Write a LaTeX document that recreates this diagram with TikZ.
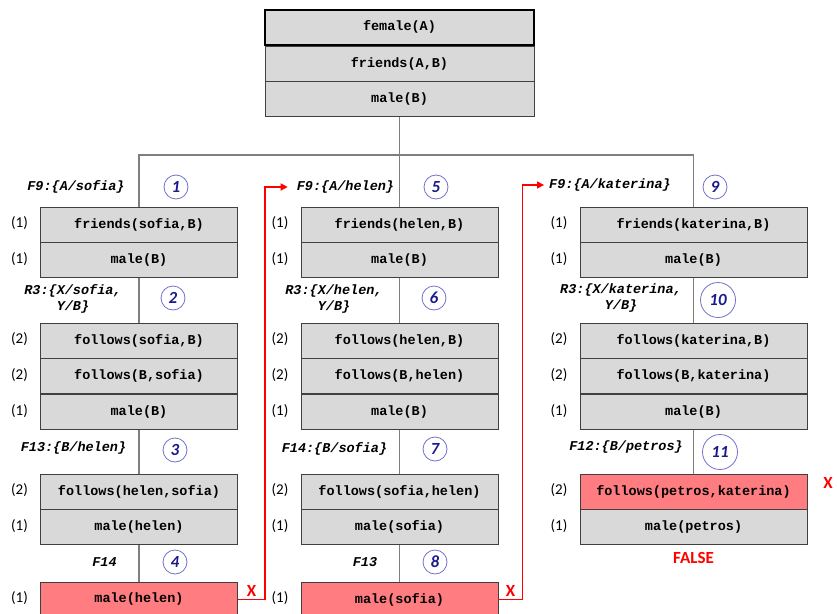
\documentclass[tikz,border=0pt]{standalone}
\usepackage{fontspec}
\setmainfont{Carlito}
\newfontfamily\codefont{Liberation Mono}
\usepackage{xcolor}
\definecolor{cBox}{HTML}{D9D9D9}
\definecolor{cLine}{HTML}{404040}
\definecolor{cLink}{HTML}{7F7F7F}
\definecolor{cFail}{HTML}{FF7C80}
\definecolor{cRed}{HTML}{FF0000}
\definecolor{cRing}{HTML}{7070D0}
\definecolor{cNum}{HTML}{1A1A8C}
\usepackage{tikz}
\usetikzlibrary{positioning,arrows.meta}
\tikzset{
  node-row/.style={draw=cLine,line width=0.9pt,fill=cBox,minimum width=197pt,
    minimum height=35pt,inner sep=0pt,
    font=\codefont\bfseries\fontsize{13.5}{16}\selectfont},
  node-wide/.style={minimum width=227pt},
  node-top/.style={minimum width=269pt},
  node-head/.style={draw=black,line width=1.7pt},
  node-fail/.style={fill=cFail},
  node-sub/.style={inner sep=1pt,align=center,
    font=\codefont\bfseries\itshape\fontsize{13.5}{16}\selectfont},
  node-count/.style={inner sep=1pt,font=\fontsize{15}{16}\selectfont},
  node-num/.style={circle,draw=cRing,line width=0.8pt,minimum size=24pt,
    inner sep=0pt,text=cNum,font=\bfseries\itshape\fontsize{17}{18}\selectfont},
  node-mark/.style={text=cRed,inner sep=1pt,font=\bfseries\fontsize{17}{18}\selectfont},
  link/.style={draw=cLink,line width=1.1pt},
  arrow-back/.style={-{Triangle[length=7pt,width=7pt]},draw=cRed,line width=1.4pt},
}

\begin{document}
\begin{tikzpicture}[x=1pt,y=-1pt]
  \useasboundingbox (0,0) rectangle (837,613);
  % query
  \node[node-row,node-top] (t2) at (399.5,63.5) {friends(A,B)};
  \node[node-row,node-top,node-head,above=0pt of t2] (t1) {female(A)};
  \node[node-row,node-top,below=0pt of t2] (t3) {male(B)};
  \coordinate (fork) at (399.5,155);

  % left branch: sofia
  \node[node-row] (l1a) at (139,224.5) {friends(sofia,B)};
  \node[node-row,below=0pt of l1a] (l1b) {male(B)};
  \node[node-row] (l2a) at (139,340.5) {follows(sofia,B)};
  \node[node-row,below=0pt of l2a] (l2b) {follows(B,sofia)};
  \node[node-row,below=0pt of l2b] (l2c) {male(B)};
  \node[node-row] (l3a) at (139,491.5) {follows(helen,sofia)};
  \node[node-row,below=0pt of l3a] (l3b) {male(helen)};
  \node[node-row,node-fail] (l4a) at (139,599.5) {male(helen)};

  % middle branch: helen
  \node[node-row] (m1a) at (399.5,224.5) {friends(helen,B)};
  \node[node-row,below=0pt of m1a] (m1b) {male(B)};
  \node[node-row] (m2a) at (399.5,340.5) {follows(helen,B)};
  \node[node-row,below=0pt of m2a] (m2b) {follows(B,helen)};
  \node[node-row,below=0pt of m2b] (m2c) {male(B)};
  \node[node-row] (m3a) at (399.5,491.5) {follows(sofia,helen)};
  \node[node-row,below=0pt of m3a] (m3b) {male(sofia)};
  \node[node-row,node-fail] (m4a) at (399.5,599.5) {male(sofia)};

  % right branch: katerina
  \node[node-row,node-wide] (r1a) at (693.5,224.5) {friends(katerina,B)};
  \node[node-row,node-wide,below=0pt of r1a] (r1b) {male(B)};
  \node[node-row,node-wide] (r2a) at (693.5,340.5) {follows(katerina,B)};
  \node[node-row,node-wide,below=0pt of r2a] (r2b) {follows(B,katerina)};
  \node[node-row,node-wide,below=0pt of r2b] (r2c) {male(B)};
  \node[node-row,node-wide,node-fail] (r3a) at (693.5,491.5) {follows(petros,katerina)};
  \node[node-row,node-wide,below=0pt of r3a] (r3b) {male(petros)};

  % counters
  \foreach \row/\c in {l1a/1,l1b/1,l2a/2,l2b/2,l2c/1,l3a/2,l3b/1,l4a/1,
    m1a/1,m1b/1,m2a/2,m2b/2,m2c/1,m3a/2,m3b/1,m4a/1,
    r1a/1,r1b/1,r2a/2,r2b/2,r2c/1,r3a/2,r3b/1}
    \node[node-count,left=11pt of \row,yshift=1.5pt] (cnt-\row) {(\c)};

  % substitutions
  \node[node-sub] (s1) at (76,187) {F9:\{A/sofia\}};
  \node[node-sub] (s2) at (73,299) {R3:\{X/sofia,\\Y/B\}};
  \node[node-sub] (s3) at (73.5,448) {F13:\{B/helen\}};
  \node[node-sub] (s4) at (104.5,562) {F14};
  \node[node-sub] (s5) at (345.5,187) {F9:\{A/helen\}};
  \node[node-sub] (s6) at (334,299) {R3:\{X/helen,\\Y/B\}};
  \node[node-sub] (s7) at (334.5,449) {F14:\{B/sofia\}};
  \node[node-sub] (s8) at (365,562) {F13};
  \node[node-sub] (s9) at (610,185) {F9:\{A/katerina\}};
  \node[node-sub] (s10) at (621,298) {R3:\{X/katerina,\\Y/B\}};
  \node[node-sub] (s11) at (626,447) {F12:\{B/petros\}};

  % step numbers
  \node[node-num] (num1) at (176,187) {1};
  \node[node-num] (num2) at (173,298) {2};
  \node[node-num] (num3) at (175,450) {3};
  \node[node-num] (num4) at (175,562) {4};
  \node[node-num] (num5) at (436,187) {5};
  \node[node-num] (num6) at (434,298) {6};
  \node[node-num] (num7) at (435,449) {7};
  \node[node-num] (num8) at (435,562) {8};
  \node[node-num] (num9) at (715,187) {9};
  \node[node-num,minimum size=35pt] (num10) at (718,300) {10};
  \node[node-num,minimum size=35pt] (num11) at (720,452) {11};

  \node[node-mark] (xr) at (828,483) {X};
  \node[node-mark,below=6pt of r3b] (verdict) {FALSE};

  % links
  \draw[link] (t3) -- (fork);
  \draw[link] (fork) -| (l1a.north);
  \draw[link] (fork) -- (m1a.north);
  \draw[link] (fork) -| (r1a.north);
  \draw[link] (l1b) -- (l2a);
  \draw[link] (l2c) -- (l3a);
  \draw[link] (l3b) -- (l4a);
  \draw[link] (m1b) -- (m2a);
  \draw[link] (m2c) -- (m3a);
  \draw[link] (m3b) -- (m4a);
  \draw[link] (r1b) -- (r2a);
  \draw[link] (r2c) -- (r3a);

  % backtracking
  \draw[arrow-back,shorten >=8pt] (l4a.east) -- ++(27,0)
    node[node-mark,midway,above=1pt] (x1) {X} |- (s5.west);
  \draw[arrow-back,shorten >=4pt] (m4a.east) -- ++(24,0)
    node[node-mark,midway,above=1pt] (x2) {X} |- (s9.west);
\end{tikzpicture}
\end{document}
